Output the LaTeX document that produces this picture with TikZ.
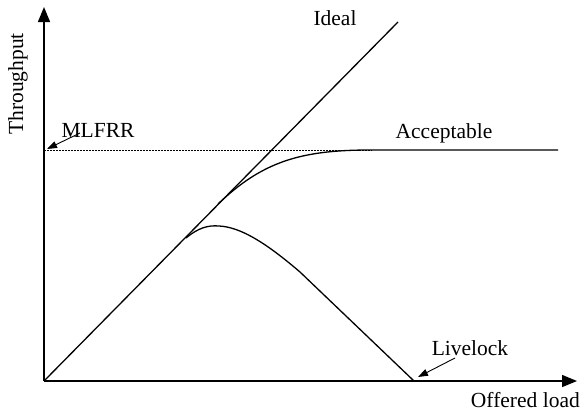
\documentclass[tikz,border=0pt]{standalone}
\usepackage{fontspec}
\setmainfont{Liberation Serif}
\usetikzlibrary{arrows.meta}
\begin{document}
\begin{tikzpicture}[x=1pt,y=-1pt,
  lbl/.style={font=\fontsize{21.5}{24}\selectfont,inner sep=0pt},
  axis/.style={line width=1.4pt,-{Triangle[length=15pt,width=12pt]}},
  curve/.style={line width=1.3pt},
  pointer/.style={line width=0.9pt,-{Triangle[length=10pt,width=7pt]}}]
\useasboundingbox (0,0) rectangle (585,416);
\coordinate (O) at (44,381);
\coordinate (ytip) at (44,7);
\coordinate (xtip) at (577,381);
\coordinate (idealend) at (398,22);
\coordinate (mlfrr) at (44,150);
\coordinate (dashend) at (372,150);
\coordinate (accstart) at (218,204);
\coordinate (accflat) at (370,150);
\coordinate (accend) at (558,150);
\coordinate (livestart) at (186,238);
\coordinate (livepeak) at (219,226);
\coordinate (liveend) at (414,381);
% axes
\draw[axis] (O) -- (ytip);
\draw[axis] (O) -- (xtip);
% dashed MLFRR
\draw[dash pattern=on 2pt off 1pt,line width=0.6pt] (mlfrr) -- (dashend);
% ideal
\draw[curve] (O) -- (idealend);
% acceptable
\draw[curve] (accstart) .. controls (262,162) and (300,150) .. (accflat) -- (accend);
% livelock
\draw[curve] (livestart) .. controls (198,228) and (208,225) .. (livepeak)
  .. controls (240,227) and (265,242) .. (300,272) -- (liveend);
% labels
\node[lbl] (ideal) at (335,18) {Ideal};
\node[lbl] (acc) at (444,133) {Acceptable};
\node[lbl] (ml) at (98,130) {MLFRR};
\node[lbl] (live) at (470,348) {Livelock};
\node[lbl,anchor=north east] (ol) at (580,392) {Offered load};
\node[lbl,rotate=90] (tp) at (18,84) {Throughput};
% pointers
\coordinate (mlfrom) at (80,133);
\coordinate (livefrom) at (455,358);
\coordinate (liveto) at (418,377);
\coordinate (mlto) at (47,149);
\draw[pointer] (mlfrom) -- (mlto);
\draw[pointer] (livefrom) -- (liveto);
\end{tikzpicture}
\end{document}
